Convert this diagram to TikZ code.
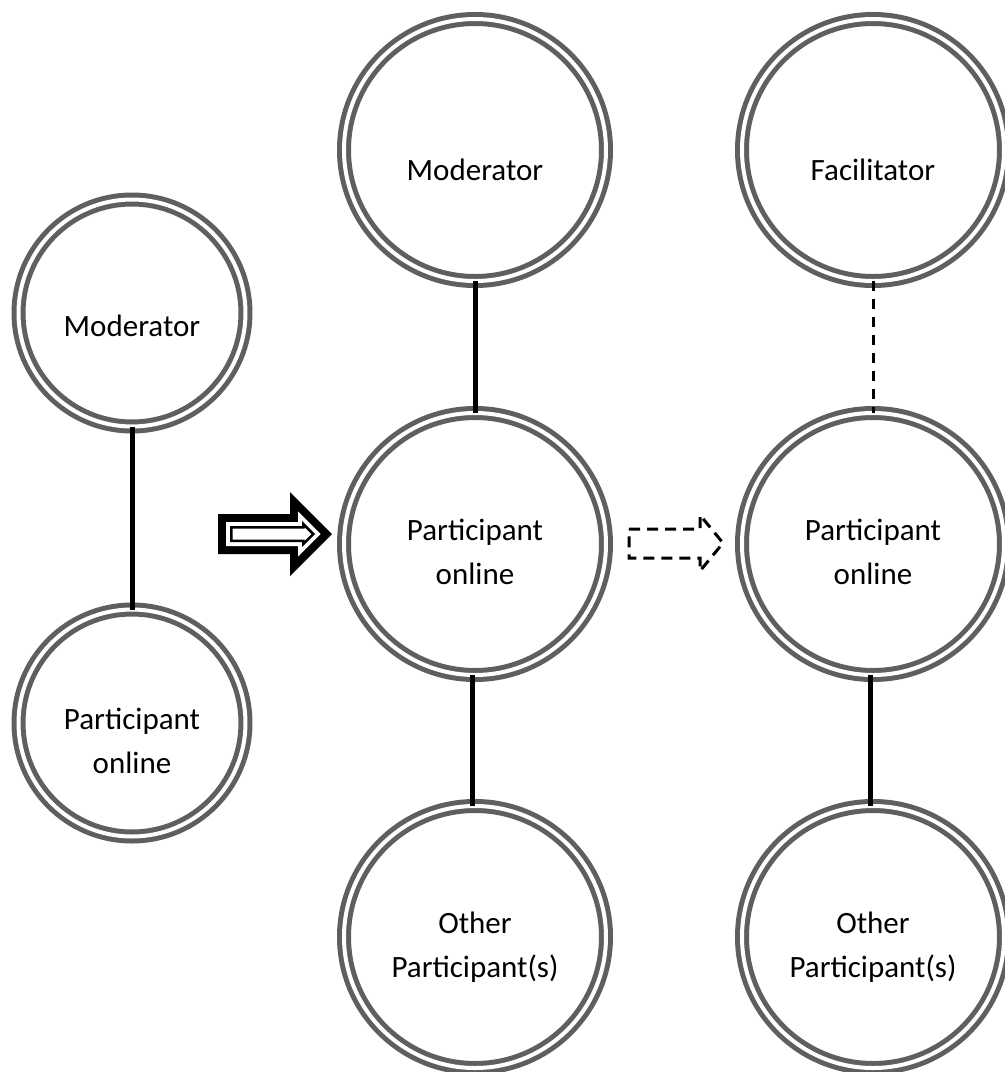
\documentclass[tikz,border=0pt]{standalone}
\usepackage{fontspec}
\setmainfont{Carlito}
\definecolor{ringgray}{RGB}{95,95,95}
\newcommand\myArrowPath[1]{({218+#1},{514+#1}) -- ({290+#1},{514+#1}) -- ({290+#1},{492+#1+#1*1.41421}) -- ({332-#1*1.41421},534) -- ({290+#1},{576-#1-#1*1.41421}) -- ({290+#1},{554-#1}) -- ({218+#1},{554-#1}) -- cycle}
\begin{document}
\begin{tikzpicture}[x=1pt,y=-1pt,
  ring/.style={circle, draw=ringgray, line width=5pt, double=white, double distance=4pt, inner sep=0pt, outer sep=0pt},
  bigring/.style={ring, minimum size=262pt},
  smallring/.style={ring, minimum size=227pt},
  lbl/.style={font=\fontsize{31}{37}\selectfont, anchor=base, inner sep=0pt, text=black},
  conn/.style={line width=5pt, black},
  dconn/.style={line width=3pt, black, dash pattern=on 10pt off 8pt},
  darrow/.style={line width=3pt, black, dash pattern=on 11pt off 7pt, line join=miter},
]
\fill[white] (0,0) rectangle (1005,1072);
\useasboundingbox (0,0) rectangle (1005,1072);

% circles
\node[smallring] (m1) at (132,313) {};
\node[smallring] (p1) at (132,723) {};
\node[bigring] (m2) at (475,150) {};
\node[bigring] (p2) at (475,544) {};
\node[bigring] (o2) at (475,937) {};
\node[bigring] (f3) at (873,150) {};
\node[bigring] (p3) at (873,544) {};
\node[bigring] (o3) at (873,937) {};

% labels
\node[lbl] (m1t) at (132,336) {Moderator};
\node[lbl] (p1ta) at (132,729) {Participant};
\node[lbl] (p1tb) at (132,773) {online};
\node[lbl] (m2t) at (475,180) {Moderator};
\node[lbl] (p2ta) at (475,540) {Participant};
\node[lbl] (p2tb) at (475,584) {online};
\node[lbl] (o2ta) at (475,933) {Other};
\node[lbl] (o2tb) at (475,977) {Participant(s)};
\node[lbl] (f3t) at (873,180) {Facilitator};
\node[lbl] (p3ta) at (873,540) {Participant};
\node[lbl] (p3tb) at (873,584) {online};
\node[lbl] (o3ta) at (873,933) {Other};
\node[lbl] (o3tb) at (873,977) {Participant(s)};

% connectors
\draw[conn] (m1.south) -- (p1.north);
\draw[conn] (m2.south) -- (p2.north);
\draw[conn] ([xshift=-3pt]p2.south) -- ([xshift=-3pt]o2.north);
\draw[dconn] (f3.south) -- (p3.north);
\draw[conn] ([xshift=-3pt]p3.south) -- ([xshift=-3pt]o3.north);

% thick block arrow
\fill[black, line join=miter] \myArrowPath{0};
\fill[white, line join=miter] \myArrowPath{8};
\draw[black, line width=2.5pt, line join=miter] \myArrowPath{13.25};

% dashed block arrow
\draw[darrow] (629,529) -- (700,529) -- (700,515) -- (723,543) -- (700,571) -- (700,558) -- (629,558) -- cycle;
\end{tikzpicture}
\end{document}
